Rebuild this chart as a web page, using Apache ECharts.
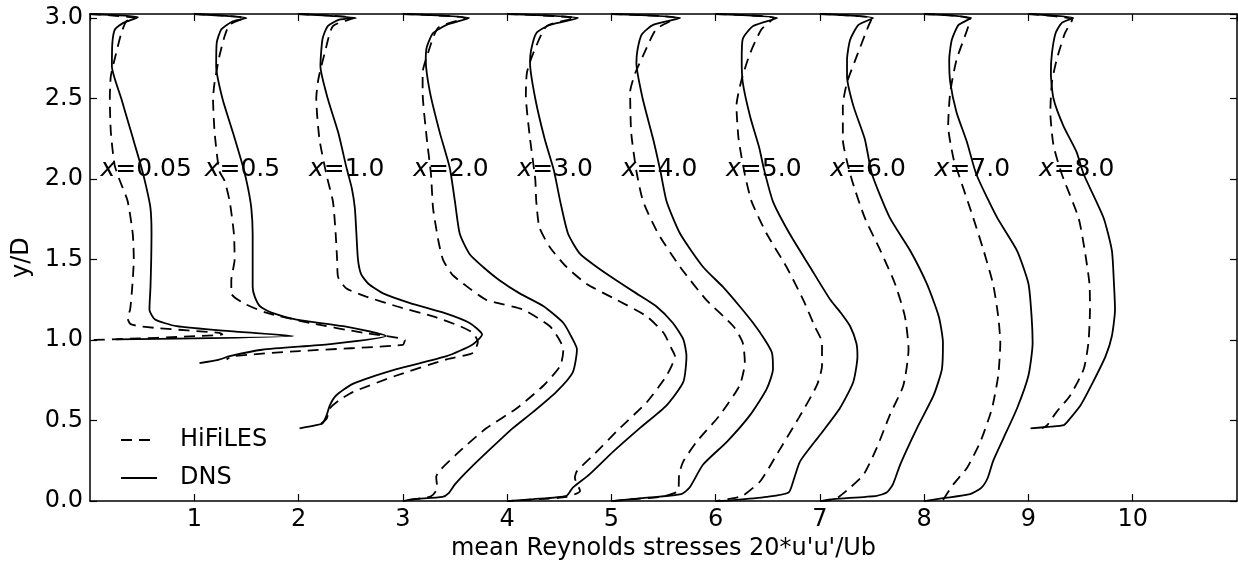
<!DOCTYPE html>
<html>
<head>
<meta charset="utf-8">
<script src="https://cdn.jsdelivr.net/npm/echarts@6/dist/echarts.min.js"></script>
<style>
  html, body { margin: 0; padding: 0; background: #fff; }
  #chart { width: 1238px; height: 566px; }
</style>
</head>
<body>
<div id="chart"></div>
<script>
// station labels (x/D of each profile); profile i is shifted by i along the x axis
const stations = ['0.05', '0.5', '1.0', '2.0', '3.0', '4.0', '5.0', '6.0', '7.0', '8.0']

// DNS profiles, [shifted value, y/D], read top to bottom
const dns0 = [[0, 3.025], [0.46, 3.005], [0.32, 2.97], [0.24, 2.93], [0.215, 2.85], [0.21, 2.7], [0.3, 2.5], [0.395, 2.29], [0.49, 2.08], [0.54, 1.95], [0.58, 1.82], [0.59, 1.66], [0.587, 1.5], [0.58, 1.33], [0.57, 1.19], [0.62, 1.13], [0.83, 1.086], [1.34, 1.055], [1.95, 1.025], [0.25, 1.004]]
const dns1 = [[1, 3.025], [1.5, 3.0], [1.37, 2.98], [1.26, 2.93], [1.215, 2.845], [1.21, 2.7], [1.27, 2.5], [1.37, 2.29], [1.47, 2.07], [1.515, 1.945], [1.547, 1.82], [1.56, 1.66], [1.56, 1.5], [1.56, 1.33], [1.58, 1.27], [1.63, 1.21], [1.74, 1.17], [1.98, 1.127], [2.43, 1.086], [2.84, 1.025], [2.3, 0.975], [1.65, 0.94], [1.34, 0.9], [1.23, 0.877], [1.05, 0.857]]
const dns2 = [[2, 3.025], [2.55, 3.0], [2.39, 2.99], [2.28, 2.95], [2.23, 2.87], [2.21, 2.7], [2.28, 2.5], [2.38, 2.29], [2.46, 2.07], [2.51, 1.945], [2.54, 1.82], [2.555, 1.66], [2.57, 1.5], [2.6, 1.41], [2.67, 1.35], [2.81, 1.29], [3.07, 1.23], [3.39, 1.17], [3.64, 1.106], [3.76, 1.035], [3.67, 0.973], [3.42, 0.9], [2.94, 0.82], [2.52, 0.728], [2.36, 0.656], [2.3, 0.595], [2.27, 0.534], [2.23, 0.483], [2.17, 0.472], [2.01, 0.452]]
const dns3 = [[3, 3.025], [3.635, 3.0], [3.42, 2.957], [3.29, 2.906], [3.23, 2.82], [3.22, 2.74], [3.26, 2.54], [3.354, 2.29], [3.45, 2.07], [3.5, 1.86], [3.546, 1.66], [3.64, 1.535], [3.77, 1.454], [3.93, 1.37], [4.12, 1.29], [4.35, 1.21], [4.54, 1.106], [4.63, 1.004], [4.67, 0.943], [4.63, 0.8], [4.47, 0.677], [4.25, 0.554], [4.05, 0.45], [3.85, 0.33], [3.64, 0.2], [3.5, 0.104], [3.44, 0.05], [3.38, 0.026], [3.1, 0.012], [3.0, 0.0]]
const dns4 = [[4, 3.025], [4.68, 3.0], [4.41, 2.957], [4.28, 2.906], [4.23, 2.8], [4.22, 2.72], [4.27, 2.5], [4.36, 2.25], [4.45, 2.05], [4.51, 1.86], [4.585, 1.66], [4.7, 1.535], [4.86, 1.454], [5.05, 1.37], [5.24, 1.29], [5.43, 1.21], [5.59, 1.106], [5.69, 1.004], [5.72, 0.9], [5.69, 0.74], [5.53, 0.595], [5.27, 0.452], [5.02, 0.309], [4.79, 0.166], [4.63, 0.084], [4.57, 0.033], [4.25, 0.012], [4.0, 0.0]]
const dns5 = [[5, 3.025], [5.66, 3.0], [5.4, 2.957], [5.29, 2.896], [5.25, 2.8], [5.24, 2.72], [5.3, 2.5], [5.4, 2.25], [5.47, 2.05], [5.53, 1.86], [5.66, 1.66], [5.88, 1.454], [6.07, 1.33], [6.23, 1.21], [6.36, 1.106], [6.47, 1.004], [6.54, 0.922], [6.55, 0.82], [6.49, 0.697], [6.33, 0.534], [6.11, 0.37], [5.88, 0.227], [5.75, 0.084], [5.67, 0.043], [5.37, 0.023], [5.0, 0.0]]
const dns6 = [[6, 3.025], [6.59, 3.0], [6.36, 2.95], [6.26, 2.87], [6.25, 2.74], [6.26, 2.6], [6.33, 2.39], [6.42, 2.19], [6.46, 2.07], [6.55, 1.86], [6.71, 1.66], [6.905, 1.454], [7.1, 1.25], [7.2, 1.17], [7.29, 1.086], [7.35, 0.98], [7.36, 0.9], [7.32, 0.74], [7.19, 0.575], [7.0, 0.41], [6.81, 0.247], [6.745, 0.125], [6.7, 0.053], [6.49, 0.026], [6.17, 0.006], [6.0, 0.0]]
const dns7 = [[7, 3.025], [7.51, 3.0], [7.37, 2.957], [7.29, 2.865], [7.26, 2.74], [7.26, 2.64], [7.32, 2.456], [7.43, 2.25], [7.5, 2.03], [7.67, 1.76], [7.865, 1.556], [8.025, 1.35], [8.14, 1.147], [8.18, 0.983], [8.17, 0.82], [8.09, 0.656], [7.93, 0.452], [7.77, 0.227], [7.7, 0.104], [7.64, 0.053], [7.545, 0.033], [7.13, 0.012], [7.0, 0.0]]
const dns8 = [[8, 3.025], [8.45, 3.0], [8.33, 2.957], [8.265, 2.865], [8.24, 2.74], [8.25, 2.6], [8.31, 2.415], [8.41, 2.23], [8.5, 2.03], [8.7, 1.76], [8.89, 1.556], [9.0, 1.35], [9.03, 1.147], [9.04, 0.983], [9.0, 0.78], [8.89, 0.575], [8.76, 0.39], [8.66, 0.247], [8.61, 0.145], [8.55, 0.084], [8.44, 0.043], [8.18, 0.018], [8.0, 0.0]]
const dns9 = [[9, 3.025], [9.43, 3.0], [9.32, 2.97], [9.26, 2.906], [9.225, 2.78], [9.215, 2.66], [9.24, 2.5], [9.335, 2.33], [9.46, 2.17], [9.53, 2.03], [9.72, 1.76], [9.8, 1.556], [9.82, 1.35], [9.83, 1.19], [9.8, 1.025], [9.74, 0.9], [9.62, 0.74], [9.5, 0.595], [9.37, 0.49], [9.34, 0.472], [9.21, 0.462], [9.02, 0.452]]

// HiFiLES profiles
const les0 = [[0, 3.025], [0.44, 3.0], [0.35, 2.98], [0.3, 2.905], [0.25, 2.78], [0.2, 2.64], [0.19, 2.5], [0.2, 2.29], [0.235, 2.09], [0.28, 2.0], [0.36, 1.865], [0.41, 1.66], [0.42, 1.5], [0.405, 1.33], [0.385, 1.19], [0.36, 1.137], [0.395, 1.097], [0.635, 1.075], [1.24, 1.045], [1.27, 1.035], [0.0, 1.0]]
const les1 = [[1, 3.025], [1.48, 3.0], [1.34, 2.96], [1.29, 2.885], [1.24, 2.76], [1.195, 2.6], [1.18, 2.5], [1.195, 2.29], [1.24, 2.05], [1.29, 1.99], [1.34, 1.86], [1.38, 1.66], [1.387, 1.5], [1.355, 1.37], [1.355, 1.29], [1.47, 1.23], [1.69, 1.17], [2.11, 1.106], [2.62, 1.045], [3.02, 1.0], [3.0, 0.97], [2.01, 0.932], [1.37, 0.9], [1.31, 0.88]]
const les2 = [[2, 3.025], [2.53, 3.0], [2.33, 2.95], [2.25, 2.78], [2.19, 2.62], [2.17, 2.5], [2.2, 2.25], [2.27, 2.02], [2.33, 1.86], [2.356, 1.66], [2.37, 1.5], [2.38, 1.39], [2.46, 1.32], [2.65, 1.27], [2.94, 1.21], [3.29, 1.147], [3.55, 1.086], [3.67, 1.045], [3.72, 0.99], [3.67, 0.92], [3.42, 0.88], [2.94, 0.78], [2.52, 0.677], [2.39, 0.626], [2.3, 0.575], [2.27, 0.513], [2.22, 0.483], [2.17, 0.462]]
const les3 = [[3, 3.025], [3.6, 3.0], [3.34, 2.94], [3.24, 2.78], [3.19, 2.66], [3.19, 2.54], [3.23, 2.25], [3.27, 2.03], [3.29, 1.82], [3.34, 1.62], [3.385, 1.5], [3.47, 1.41], [3.58, 1.35], [3.8, 1.25], [4.15, 1.19], [4.41, 1.086], [4.5, 1.004], [4.54, 0.943], [4.51, 0.84], [4.35, 0.718], [4.09, 0.575], [3.8, 0.452], [3.51, 0.288], [3.32, 0.15], [3.33, 0.08], [3.27, 0.03], [3.1, 0.01], [3.0, 0.0]]
const les4 = [[4, 3.025], [4.65, 3.0], [4.38, 2.95], [4.25, 2.78], [4.19, 2.66], [4.18, 2.52], [4.22, 2.25], [4.27, 2.0], [4.28, 1.86], [4.31, 1.7], [4.41, 1.577], [4.57, 1.454], [4.76, 1.35], [5.05, 1.25], [5.34, 1.147], [5.5, 1.045], [5.58, 0.943], [5.61, 0.9], [5.53, 0.78], [5.34, 0.615], [5.08, 0.452], [4.83, 0.288], [4.67, 0.186], [4.65, 0.145], [4.7, 0.063], [4.57, 0.026], [4.31, 0.012], [4.0, 0.0]]
const les5 = [[5, 3.025], [5.62, 3.0], [5.43, 2.93], [5.3, 2.76], [5.23, 2.66], [5.18, 2.54], [5.19, 2.29], [5.24, 2.05], [5.305, 1.86], [5.45, 1.66], [5.66, 1.454], [5.91, 1.25], [6.17, 1.086], [6.26, 0.983], [6.28, 0.86], [6.23, 0.718], [6.04, 0.534], [5.82, 0.37], [5.69, 0.247], [5.65, 0.166], [5.64, 0.063], [5.47, 0.026], [5.21, 0.012], [5.0, 0.0]]
const les6 = [[6, 3.025], [6.56, 3.0], [6.44, 2.93], [6.33, 2.78], [6.25, 2.62], [6.2, 2.456], [6.22, 2.25], [6.28, 2.03], [6.345, 1.86], [6.49, 1.66], [6.68, 1.454], [6.84, 1.25], [6.95, 1.086], [7.02, 0.983], [7.02, 0.84], [6.97, 0.718], [6.8, 0.52], [6.585, 0.288], [6.43, 0.125], [6.26, 0.033], [6.17, 0.018], [6.0, 0.0]]
const les7 = [[7, 3.025], [7.5, 3.0], [7.465, 2.95], [7.34, 2.74], [7.26, 2.6], [7.22, 2.456], [7.22, 2.25], [7.3, 2.01], [7.43, 1.76], [7.58, 1.556], [7.72, 1.35], [7.815, 1.147], [7.85, 0.943], [7.8, 0.718], [7.67, 0.534], [7.545, 0.33], [7.42, 0.166], [7.29, 0.084], [7.18, 0.026], [7.1, 0.006], [7.0, 0.0]]
const les8 = [[8, 3.025], [8.44, 2.99], [8.31, 2.74], [8.25, 2.54], [8.23, 2.33], [8.28, 2.13], [8.33, 2.03], [8.47, 1.76], [8.57, 1.556], [8.66, 1.35], [8.71, 1.147], [8.73, 0.983], [8.71, 0.78], [8.65, 0.575], [8.54, 0.37], [8.41, 0.206], [8.28, 0.104], [8.18, 0.006]]
const les9 = [[9, 3.025], [9.42, 2.99], [9.35, 2.906], [9.27, 2.74], [9.225, 2.6], [9.21, 2.415], [9.24, 2.21], [9.32, 2.03], [9.48, 1.76], [9.54, 1.556], [9.585, 1.35], [9.59, 1.19], [9.575, 0.983], [9.53, 0.82], [9.4, 0.656], [9.27, 0.554], [9.18, 0.472], [9.13, 0.452]]

const dnsProfiles = [dns0, dns1, dns2, dns3, dns4, dns5, dns6, dns7, dns8, dns9]
const lesProfiles = [les0, les1, les2, les3, les4, les5, les6, les7, les8, les9]

const labelY = 2.058 // height of the station labels
const font = 'DejaVu Sans'

let series = []
for (let i = 0; i < stations.length; i++) {
  series.push({
    name: 'HiFiLES',
    type: 'line',
    data: lesProfiles[i],
    symbol: 'none',
    smooth: 0.2,
    color: '#000',
    lineStyle: { color: '#000', width: 1.8, type: [11, 7] }
  })
  series.push({
    name: 'DNS',
    type: 'line',
    data: dnsProfiles[i],
    symbol: 'none',
    smooth: 0.2,
    color: '#000',
    lineStyle: { color: '#000', width: 1.8, type: 'solid' }
  })
}
// station labels "x=..."
series.push({
  name: 'labels',
  type: 'scatter',
  symbolSize: 0,
  silent: true,
  itemStyle: { opacity: 1, color: '#000' },
  data: stations.map((s, i) => [i + 0.1, labelY]),
  label: {
    show: true,
    position: 'right',
    distance: 0,
    color: '#000',
    opacity: 1,
    formatter: p => '{a|x}{b|=' + stations[p.dataIndex] + '}',
    rich: {
      a: { fontFamily: font, fontSize: 25, fontStyle: 'italic', color: '#000' },
      b: { fontFamily: font, fontSize: 25, color: '#000' }
    }
  }
})

const axisCommon = {
  axisLine: { show: true, onZero: false, lineStyle: { color: '#000', width: 1.5 } },
  axisTick: { show: true, inside: true, length: 7, lineStyle: { color: '#000', width: 1.2 } },
  splitLine: { show: false }
}

let myChart = echarts.init(document.getElementById('chart'))
myChart.setOption({
  animation: false,
  backgroundColor: '#fff',
  grid: { left: 90, right: 1, top: 14, bottom: 59 },
  legend: {
    data: ['HiFiLES', 'DNS'],
    orient: 'vertical',
    left: 115,
    top: 423,
    itemWidth: 36,
    itemHeight: 14,
    itemGap: 14,
    selectedMode: false,
    itemStyle: { color: 'rgba(0,0,0,0)', borderColor: 'rgba(0,0,0,0)', borderWidth: 0 },
    textStyle: { fontFamily: font, fontSize: 24, color: '#000', padding: [0, 0, 0, 18] }
  },
  xAxis: [
    Object.assign({
      type: 'value',
      position: 'bottom',
      min: 0,
      max: 11,
      interval: 1,
      name: "mean Reynolds stresses 20*u'u'/Ub",
      nameLocation: 'middle',
      nameGap: 30,
      nameTextStyle: { fontFamily: font, fontSize: 24, color: '#000' },
      axisLabel: { fontFamily: font, fontSize: 24, color: '#000', margin: 7, showMinLabel: false, showMaxLabel: false }
    }, axisCommon),
    Object.assign({
      type: 'value',
      position: 'top',
      min: 0,
      max: 11,
      interval: 1,
      axisLabel: { show: false }
    }, axisCommon)
  ],
  yAxis: [
    Object.assign({
      type: 'value',
      position: 'left',
      min: 0,
      max: 3.025,
      interval: 0.5,
      name: 'y/D',
      nameLocation: 'middle',
      nameGap: 56,
      nameTextStyle: { fontFamily: font, fontSize: 24, color: '#000' },
      axisLabel: { fontFamily: font, fontSize: 24, color: '#000', margin: 7, showMaxLabel: false, formatter: v => v.toFixed(1) }
    }, axisCommon),
    Object.assign({
      type: 'value',
      position: 'right',
      min: 0,
      max: 3.025,
      interval: 0.5,
      axisLabel: { show: false }
    }, axisCommon)
  ],
  series: series
})
</script>
</body>
</html>
